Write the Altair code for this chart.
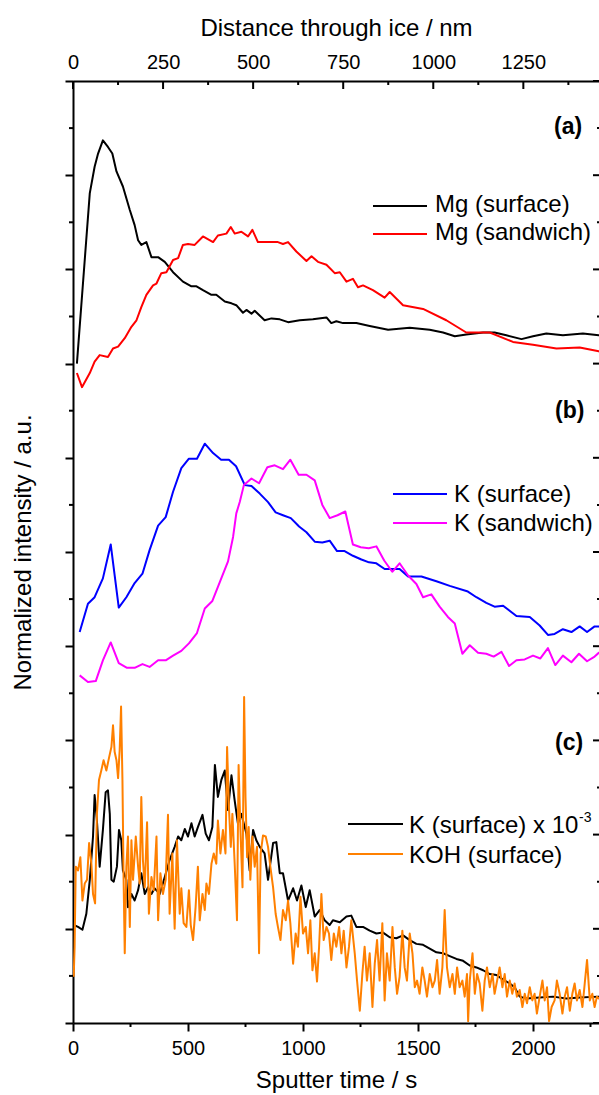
import altair as alt
import pandas as pd

# ---------------- data ----------------
# time axis in s, intensity in arbitrary stacked units (1 unit = one major y tick)
mg_surface_t = [17, 73, 94, 109, 130, 152, 171, 189, 217, 247, 268, 283, 297, 319, 341, 370, 399, 435, 478, 515,
                537, 565, 602, 623, 660, 689, 710, 739, 754, 776, 790, 833, 863, 899, 935, 986, 1043, 1102, 1123, 1145,
                1174, 1232, 1290, 1370, 1464, 1551, 1609, 1660, 1710, 1783, 1833, 1884, 1950, 2000, 2058, 2130, 2217, 2286, 2310]
mg_surface_v = [7.00, 8.81, 9.09, 9.23, 9.37, 9.30, 9.23, 9.04, 8.88, 8.63, 8.47, 8.31, 8.26, 8.29, 8.13, 8.13, 8.08, 7.97, 7.87, 7.82,
                7.82, 7.78, 7.73, 7.73, 7.66, 7.64, 7.62, 7.54, 7.57, 7.53, 7.56, 7.46, 7.48, 7.47, 7.44, 7.46, 7.47, 7.49, 7.43, 7.45,
                7.43, 7.43, 7.40, 7.36, 7.38, 7.36, 7.33, 7.29, 7.31, 7.33, 7.33, 7.30, 7.26, 7.29, 7.32, 7.30, 7.32, 7.30, 7.30]

mg_sandwich_t = [17, 39, 73, 94, 116, 152, 174, 196, 225, 254, 276, 297, 319, 348, 363, 384, 406, 435, 457, 478,
                 500, 529, 565, 609, 630, 667, 686, 703, 732, 761, 780, 804, 855, 891, 913, 935, 971, 1015, 1037, 1065,
                 1102, 1138, 1160, 1189, 1217, 1239, 1261, 1304, 1355, 1377, 1435, 1522, 1623, 1710, 1812, 1913, 2000, 2102, 2203, 2286, 2310]
mg_sandwich_v = [6.90, 6.75, 6.90, 7.02, 7.09, 7.07, 7.16, 7.18, 7.27, 7.39, 7.46, 7.60, 7.73, 7.83, 7.85, 7.96, 7.97, 8.10, 8.12, 8.26,
                 8.27, 8.26, 8.35, 8.29, 8.36, 8.38, 8.45, 8.38, 8.40, 8.35, 8.42, 8.29, 8.29, 8.29, 8.27, 8.29, 8.19, 8.09, 8.14, 8.08,
                 8.05, 7.96, 7.97, 7.87, 7.90, 7.81, 7.83, 7.78, 7.70, 7.76, 7.62, 7.58, 7.46, 7.33, 7.33, 7.23, 7.20, 7.16, 7.17, 7.13, 7.12]

k_surface_t = [29, 65, 94, 130, 164, 199, 232, 268, 302, 333, 370, 403, 435, 471, 504, 539, 573, 609, 644, 678,
               709, 747, 776, 812, 848, 881, 913, 947, 983, 1015, 1051, 1084, 1116, 1148, 1181, 1217, 1254, 1287, 1319, 1355,
               1420, 1457, 1515, 1580, 1638, 1717, 1754, 1797, 1833, 1870, 1928, 1986, 2029, 2065, 2094, 2130, 2167, 2203, 2235, 2268, 2286, 2310]
k_surface_v = [4.15, 4.45, 4.52, 4.72, 5.08, 4.41, 4.52, 4.67, 4.77, 5.02, 5.28, 5.37, 5.64, 5.89, 5.99, 5.99, 6.15, 6.05, 5.98, 5.98,
               5.91, 5.71, 5.70, 5.62, 5.53, 5.42, 5.39, 5.36, 5.27, 5.21, 5.11, 5.10, 5.12, 5.01, 5.01, 4.96, 4.92, 4.89, 4.88, 4.82,
               4.82, 4.74, 4.74, 4.69, 4.64, 4.58, 4.52, 4.46, 4.42, 4.43, 4.32, 4.31, 4.22, 4.12, 4.13, 4.18, 4.15, 4.21, 4.15, 4.21, 4.21, 4.20]

k_sandwich_t = [29, 65, 99, 130, 164, 199, 235, 268, 302, 333, 370, 403, 435, 471, 504, 539, 573, 606, 640, 674,
                696, 710, 725, 743, 776, 809, 845, 877, 913, 945, 981, 1015, 1051, 1084, 1116, 1150, 1184, 1217, 1251, 1286,
                1319, 1353, 1388, 1420, 1457, 1493, 1522, 1558, 1594, 1630, 1660, 1693, 1725, 1761, 1797, 1829, 1863, 1896, 1928, 1964,
                2000, 2032, 2065, 2097, 2130, 2167, 2200, 2235, 2268, 2286, 2310]
k_sandwich_v = [3.69, 3.62, 3.63, 3.85, 4.04, 3.82, 3.77, 3.77, 3.81, 3.78, 3.85, 3.85, 3.90, 3.95, 4.03, 4.14, 4.40, 4.48, 4.69, 4.90,
                5.16, 5.41, 5.53, 5.71, 5.78, 5.73, 5.90, 5.92, 5.88, 5.98, 5.82, 5.82, 5.76, 5.50, 5.36, 5.39, 5.43, 5.08, 5.05, 5.04,
                5.06, 4.91, 4.79, 4.88, 4.75, 4.66, 4.52, 4.55, 4.42, 4.31, 4.24, 3.92, 4.01, 3.93, 3.92, 3.89, 3.94, 3.79, 3.85, 3.86,
                3.90, 3.87, 3.98, 3.80, 3.90, 3.83, 3.92, 3.84, 3.89, 3.93, 3.95]

k_scaled_t = [3, 22, 41, 58, 73, 87, 94, 104, 116, 130, 142, 152, 160, 167, 177, 191, 200, 210, 217, 232,
              239, 254, 268, 283, 297, 312, 326, 341, 355, 377, 399, 420, 442, 457, 471, 486, 500, 515, 529, 543,
              563, 577, 591, 606, 617, 630, 645, 660, 674, 689, 703, 717, 732, 754, 768, 783, 797, 812, 833, 848,
              870, 884, 899, 913, 935, 957, 974, 993, 1012, 1029, 1051, 1073, 1094, 1116, 1130, 1160, 1189, 1210, 1232, 1261,
              1290, 1319, 1348, 1377, 1406, 1435, 1464, 1493, 1522, 1551, 1580, 1609, 1638, 1667, 1696, 1725, 1754, 1783, 1812, 1841,
              1870, 1899, 1920, 1942, 1971, 2029, 2087, 2145, 2203, 2286, 2310]
k_scaled_v = [1.04, 1.02, 0.99, 1.16, 1.52, 1.98, 2.42, 2.15, 1.66, 2.05, 2.45, 2.47, 2.22, 1.52, 1.50, 1.66, 2.05, 1.94, 1.62, 1.52,
              1.23, 1.37, 1.30, 1.41, 1.59, 1.37, 1.44, 1.37, 1.43, 1.37, 1.55, 1.73, 1.87, 1.98, 1.94, 2.06, 1.98, 2.12, 1.98, 2.08,
              2.21, 2.01, 1.94, 2.08, 2.74, 2.40, 2.58, 2.68, 2.26, 2.63, 2.36, 2.12, 2.22, 2.01, 1.62, 2.05, 1.94, 1.87, 1.80, 1.52,
              1.91, 1.92, 1.59, 1.59, 1.30, 1.43, 1.30, 1.46, 1.23, 1.41, 1.13, 1.20, 1.09, 1.04, 1.09, 1.07, 1.13, 1.14, 1.02, 1.02,
              0.98, 0.95, 0.96, 0.91, 0.90, 0.93, 0.88, 0.84, 0.83, 0.79, 0.75, 0.74, 0.71, 0.68, 0.66, 0.61, 0.59, 0.56, 0.52, 0.51,
              0.46, 0.42, 0.38, 0.28, 0.26, 0.27, 0.28, 0.26, 0.27, 0.28, 0.27]

koh_t = [3, 7, 12, 22, 32, 41, 51, 61, 70, 80, 87, 96, 104, 113, 123, 133, 145, 157, 167, 174,
         181, 189, 196, 203, 209, 215, 220, 225, 232, 239, 247, 254, 261, 273, 283, 290, 297, 304, 312, 322,
         330, 341, 351, 363, 370, 380, 391, 403, 413, 420, 432, 442, 452, 464, 471, 481, 493, 504, 512, 522,
         533, 543, 551, 563, 573, 580, 591, 602, 612, 623, 630, 641, 652, 663, 670, 678, 686, 693, 703, 713,
         720, 728, 737, 744, 750, 757, 764, 771, 780, 790, 800, 809, 816, 826, 838, 848, 858, 870, 881, 891,
         902, 913, 925, 935, 945, 957, 968, 978, 989, 1000, 1012, 1022, 1032, 1041, 1051, 1061, 1070, 1080, 1090, 1102,
         1113, 1123, 1134, 1145, 1157, 1167, 1177, 1189, 1200, 1210, 1225, 1235, 1247, 1258, 1268, 1278, 1290, 1302, 1312, 1322,
         1333, 1345, 1355, 1365, 1377, 1389, 1399, 1409, 1420, 1432, 1442, 1452, 1464, 1476, 1486, 1496, 1507, 1519, 1529, 1539,
         1551, 1563, 1573, 1583, 1594, 1606, 1616, 1626, 1638, 1650, 1660, 1670, 1681, 1693, 1703, 1713, 1718, 1725, 1737, 1747,
         1757, 1768, 1780, 1790, 1800, 1812, 1824, 1833, 1844, 1855, 1867, 1877, 1887, 1899, 1910, 1920, 1930, 1942, 1954, 1964,
         1974, 1986, 1997, 2007, 2017, 2029, 2041, 2051, 2061, 2070, 2081, 2094, 2104, 2116, 2128, 2138, 2148, 2160, 2171, 2181,
         2191, 2203, 2215, 2225, 2235, 2247, 2258, 2268, 2278, 2286, 2310]
koh_v = [0.49, 0.81, 1.66, 1.62, 1.76, 1.30, 1.48, 1.52, 1.91, 1.69, 1.37, 1.27, 2.22, 2.58, 2.68, 2.79, 2.68, 2.82, 2.93, 3.16,
         2.88, 2.79, 2.60, 2.90, 3.36, 2.58, 1.52, 0.74, 1.66, 1.98, 1.02, 1.94, 1.52, 1.98, 1.66, 1.48, 2.40, 1.73, 1.44, 2.13,
         1.16, 1.55, 1.41, 1.98, 1.09, 1.59, 1.37, 1.52, 2.21, 1.16, 1.80, 1.00, 1.94, 1.16, 1.43, 1.06, 1.02, 1.41, 1.04, 0.88,
         1.23, 1.66, 1.09, 1.37, 1.20, 1.48, 1.37, 1.69, 1.80, 1.69, 2.15, 1.80, 2.05, 1.80, 2.93, 2.29, 1.87, 2.22, 1.69, 1.09,
         2.74, 2.05, 1.44, 3.46, 2.40, 1.76, 2.08, 1.52, 1.98, 1.66, 1.87, 0.74, 1.80, 1.99, 1.98, 1.87, 1.66, 1.44, 1.16, 1.02,
         0.88, 1.20, 1.09, 1.30, 1.06, 0.63, 0.95, 0.81, 1.34, 0.95, 1.02, 0.74, 1.09, 0.56, 0.74, 0.44, 0.81, 1.37, 0.88, 1.02,
         0.95, 0.67, 0.95, 0.81, 1.02, 0.74, 0.98, 0.59, 0.81, 1.09, 0.74, 0.45, 0.13, 0.52, 0.81, 0.45, 0.74, 0.17, 0.63, 0.88,
         0.45, 1.06, 0.24, 0.74, 0.45, 1.02, 0.59, 0.31, 0.49, 0.98, 0.59, 0.45, 0.95, 0.74, 0.38, 0.45, 0.31, 0.59, 0.45, 0.28,
         0.52, 0.38, 0.45, 0.67, 0.31, 0.59, 1.20, 0.59, 0.38, 0.52, 0.31, 0.59, 0.38, 0.45, 0.28, 0.52, 0.02, 0.45, 0.74, 0.31,
         0.52, 0.42, 0.13, 0.45, 0.59, 0.38, 0.52, 0.31, 0.45, 0.59, 0.38, 0.52, 0.28, 0.45, 0.31, 0.42, 0.28, 0.35, 0.17, 0.31,
         0.21, 0.38, 0.24, 0.31, 0.10, 0.28, 0.45, 0.24, 0.38, 0.02, 0.17, 0.24, 0.45, 0.31, 0.10, 0.28, 0.38, 0.13, 0.31, 0.42,
         0.24, 0.35, 0.17, 0.42, 0.67, 0.24, 0.31, 0.17, 0.28, 0.26, 0.30]

series_names = ["Mg (surface)", "Mg (sandwich)", "K (surface)", "K (sandwich)", "K (surface) x 10", "KOH (surface)"]
series_colors = ["#000000", "#ff0000", "#0000ff", "#ff00ff", "#000000", "#ff8000"]
panel_labels = ["(a)", "(b)", "(c)"]

bottom_major = [0, 500, 1000, 1500, 2000]
bottom_minor = [250, 750, 1250, 1750, 2250]
top_major = [0, 250, 500, 750, 1000, 1250]
top_minor = [125, 375, 625, 875, 1125, 1375]
y_major = [0, 1, 2, 3, 4, 5, 6, 7, 8, 9, 10]
y_minor = [0.5, 1.5, 2.5, 3.5, 4.5, 5.5, 6.5, 7.5, 8.5, 9.5]

# ---------------- layout ----------------
W, H = 526, 942
PAD_L, PAD_T = 73, 81
X_MAX = 2287      # s at right edge of the visible plot
NM_MAX = 1460     # nm at right edge of the visible plot
FONT = "Liberation Sans"
LAB = 20
TIT = 24

xs = alt.Scale(domain=[0, X_MAX], nice=False, zero=False)
ys = alt.Scale(domain=[0, 10], nice=False, zero=False)
ts = alt.Scale(domain=[0, NM_MAX], nice=False, zero=False)

bottom_axis = alt.Axis(orient="bottom", values=bottom_major, format="d", title="Sputter time / s", tickSize=8,
                       labelPadding=23, labelBaseline="alphabetic", labelFlush=False, labelOverlap=False,
                       titleX=W / 2, titleY=64, titleBaseline="alphabetic", titleAlign="center")
left_axis = alt.Axis(orient="left", values=y_major, labels=False, tickSize=8,
                     title="Normalized intensity / a.u.", titleAngle=270, titleX=-43, titleY=H / 2,
                     titleAlign="center", titleBaseline="alphabetic")
top_axis = alt.Axis(orient="top", values=top_major, format="d", ticks=False, tickSize=0, labelPadding=13,
                    labelBaseline="alphabetic", labelFlush=False, labelOverlap=False,
                    title="Distance through ice / nm", titleX=W / 2, titleY=-46,
                    titleBaseline="alphabetic", titleAlign="center")

X = alt.X("t:Q", scale=xs, axis=bottom_axis)
Y = alt.Y("v:Q", scale=ys, axis=left_axis)


def line_layer(t, v, color):
    df = pd.DataFrame({"t": t, "v": v})
    return alt.Chart(df).mark_line(color=color, strokeWidth=2, clip=True, strokeJoin="round").encode(x=X, y=Y)


def ticks_y(vals, x0, x1):
    return alt.Chart(pd.DataFrame({"v": vals})).mark_rule(color="black", strokeWidth=2).encode(
        y=Y, x=alt.value(x0), x2=alt.value(x1))


def ticks_x(vals, y0, y1):
    return alt.Chart(pd.DataFrame({"t": vals})).mark_rule(color="black", strokeWidth=2).encode(
        x=X, y=alt.value(y0), y2=alt.value(y1))


def text_layer(label, px, py, size=TIT, weight="normal"):
    return alt.Chart(pd.DataFrame({"label": [label]})).mark_text(
        font=FONT, fontSize=size, fontWeight=weight, color="black", align="left", baseline="alphabetic"
    ).encode(text="label:N", x=alt.value(px - PAD_L), y=alt.value(py - PAD_T))


def key_line(color, x0, x1, py):
    return alt.Chart(pd.DataFrame({"k": [0]})).mark_rule(color=color, strokeWidth=2).encode(
        x=alt.value(x0 - PAD_L), x2=alt.value(x1 - PAD_L), y=alt.value(py - PAD_T))


layers = [
    ticks_y(y_minor, 0, -4),
    ticks_y(y_major, W, W - 6),
    ticks_y(y_minor, W, W - 2),
    ticks_x(bottom_minor, H, H + 4),
    line_layer(mg_surface_t, mg_surface_v, series_colors[0]),
    line_layer(mg_sandwich_t, mg_sandwich_v, series_colors[1]),
    line_layer(k_surface_t, k_surface_v, series_colors[2]),
    line_layer(k_sandwich_t, k_sandwich_v, series_colors[3]),
    line_layer(k_scaled_t, k_scaled_v, series_colors[4]),
    line_layer(koh_t, koh_v, series_colors[5]),
    # panel labels
    text_layer(panel_labels[0], 554, 134, size=23, weight="bold"),
    text_layer(panel_labels[1], 555, 418, size=23, weight="bold"),
    text_layer(panel_labels[2], 555, 750, size=23, weight="bold"),
    # legend (a)
    key_line(series_colors[0], 373, 427, 206), text_layer(series_names[0], 435, 212),
    key_line(series_colors[1], 373, 427, 234), text_layer(series_names[1], 435, 240),
    # legend (b)
    key_line(series_colors[2], 393, 447, 494), text_layer(series_names[2], 454, 502),
    key_line(series_colors[3], 393, 447, 523), text_layer(series_names[3], 454, 531),
    # legend (c)
    key_line(series_colors[4], 348, 403, 824), text_layer(series_names[4], 409, 833),
    text_layer("-3", 579, 822, size=14),
    key_line(series_colors[5], 348, 403, 854), text_layer(series_names[5], 409, 863),
]
main = alt.layer(*layers)

T = alt.X("nm:Q", scale=ts, axis=top_axis)
top_major_layer = alt.Chart(pd.DataFrame({"nm": top_major})).mark_rule(color="black", strokeWidth=2).encode(
    x=T, y=alt.value(0), y2=alt.value(8))
top_minor_layer = alt.Chart(pd.DataFrame({"nm": top_minor})).mark_rule(color="black", strokeWidth=2).encode(
    x=T, y=alt.value(0), y2=alt.value(4))
top = alt.layer(top_major_layer, top_minor_layer)

chart = (
    alt.layer(main, top)
    .resolve_scale(x="independent")
    .properties(width=W, height=H, background="white",
                padding={"left": PAD_L, "top": PAD_T, "right": 0, "bottom": 1095 - PAD_T - H},
                autosize=alt.AutoSizeParams(type="none"))
    .configure_view(stroke=None)
    .configure_axis(domainColor="black", domainWidth=2, tickColor="black", tickWidth=2, grid=False,
                    labelColor="black", titleColor="black", labelFont=FONT, titleFont=FONT,
                    labelFontSize=LAB, titleFontSize=TIT, titleFontWeight="normal")
)

chart.save("out.html", embed_options={"renderer": "svg", "actions": False})
